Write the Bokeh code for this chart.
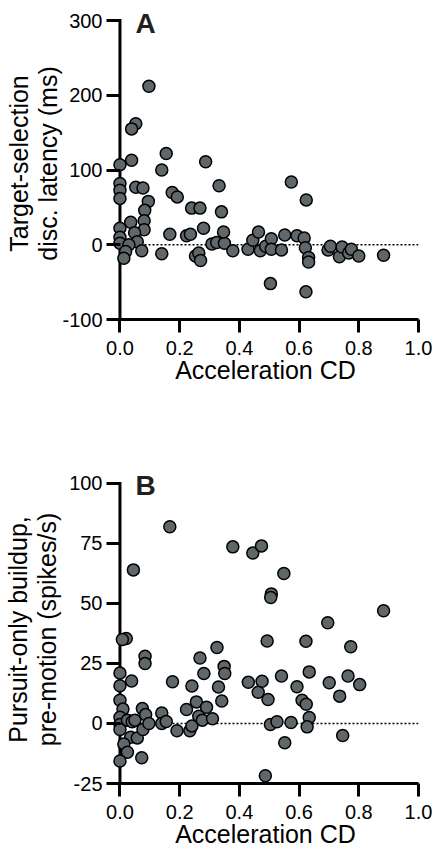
from bokeh.plotting import figure
from bokeh.models import Range1d, Span, Label, FixedTicker, ColumnDataSource
from bokeh.layouts import column
from bokeh.embed import file_html
from bokeh.resources import INLINE

# ---------------- data ----------------
x_ticks = [0.0, 0.2, 0.4, 0.6, 0.8, 1.0]
x_tick_labels = ["0.0", "0.2", "0.4", "0.6", "0.8", "1.0"]
x_label = "Acceleration CD"

a_ticks = [-100, 0, 100, 200, 300]
a_tick_labels = ["-100", "0", "100", "200", "300"]
a_ylabel = "Target-selection\ndisc. latency (ms)"
a_x = [0.097, 0.053, 0.039, 0.039, 0.0, 0.155, 0.140, 0.287, 0.0, 0.0,
       0.0, 0.053, 0.077, 0.095, 0.083, 0.081, 0.036, 0.175, 0.192, 0.240,
       0.268, 0.332, 0.340, 0.574, 0.624, 0.0, 0.0, 0.0, 0.081, 0.049,
       0.058, 0.030, 0.019, 0.013, 0.073, 0.140, 0.167, 0.223, 0.236, 0.280,
       0.253, 0.264, 0.270, 0.308, 0.324, 0.350, 0.347, 0.378, 0.429, 0.445,
       0.464, 0.470, 0.488, 0.507, 0.507, 0.504, 0.541, 0.552, 0.593, 0.617,
       0.621, 0.632, 0.632, 0.623, 0.697, 0.705, 0.735, 0.744, 0.766, 0.775,
       0.800, 0.883]
a_y = [212, 162, 155, 113, 107, 122, 100, 111, 82, 73,
       62, 77, 76, 58, 46, 32, 30, 70, 64, 49,
       49, 79, 44, 84, 60, 22, 10, 2, 20, 16,
       4, 0, -9, -18, -8, -12, 14, 12, 14, 22,
       -15, -11, -21, 1, 3, 2, 17, -8, -6, 6,
       17, -8, -2, 8, -6, -52, -7, 13, 12, 9,
       -4, -17, -23, -63, -7, -2, -16, -3, -11, -6,
       -15, -14]

b_ticks = [-25, 0, 25, 50, 75, 100]
b_tick_labels = ["-25", "0", "25", "50", "75", "100"]
b_ylabel = "Pursuit-only buildup,\npre-motion (spikes/s)"
b_x = [0.167, 0.378, 0.445, 0.474, 0.549, 0.507, 0.505, 0.045, 0.883, 0.696,
       0.021, 0.008, 0.325, 0.493, 0.623, 0.773, 0.0, 0.0, 0.0, 0.010,
       0.0, 0.0, 0.0, 0.025, 0.036, 0.013, 0.025, 0.0, 0.058, 0.073,
       0.041, 0.050, 0.075, 0.086, 0.077, 0.097, 0.039, 0.084, 0.084, 0.140,
       0.140, 0.155, 0.176, 0.191, 0.223, 0.234, 0.241, 0.241, 0.256, 0.268,
       0.264, 0.281, 0.290, 0.276, 0.310, 0.330, 0.341, 0.349, 0.351, 0.430,
       0.463, 0.476, 0.496, 0.487, 0.504, 0.526, 0.541, 0.552, 0.573, 0.593,
       0.610, 0.624, 0.634, 0.634, 0.627, 0.701, 0.736, 0.746, 0.764, 0.803]
b_y = [82, 73.6, 71, 74, 62.5, 54, 52.5, 64, 47, 42,
       35.4, 35, 31.7, 34.4, 34.3, 32, 21, 15.7, 9.7, 6,
       2.6, -0.4, -2.5, 1.4, -5.7, -8.5, -12, -15.6, -6, -14.3,
       0.7, 1.4, 6.2, 3.7, -2.5, 0, 17.7, 28, 25, 4.4,
       0, 0.8, 17.4, -3, 5.8, -3, -1, 15.6, 9, 27.3,
       3, 20.8, 6.8, 1.4, 2, 15.2, 9.4, 23.8, 20.8, 17.2,
       13, 17.6, 10, -21.8, -0.4, 0.7, 19.8, -8, 0.4, 15.3,
       9.7, 8, 21.5, 2.5, -1.4, 17, 11.4, -5, 19.8, 16.2]

FONT = "Liberation Sans"
FILL = "#60676a"


def make_panel(xs, ys, yticks, ytick_labels, ylabel, letter, letter_y,
               y_top, frame_h, top, bottom, title_standoff):
    p = figure(frame_width=306, frame_height=frame_h,
               x_range=Range1d(-0.025, 1.0),
               y_range=Range1d(yticks[0], y_top),
               output_backend="svg", toolbar_location=None, title=None,
               min_border_left=107, min_border_right=21,
               min_border_top=top, min_border_bottom=bottom)
    p.outline_line_color = None
    p.xgrid.visible = False
    p.ygrid.visible = False
    p.background_fill_color = "white"
    p.border_fill_color = "white"

    for ax in (p.xaxis[0], p.yaxis[0]):
        ax.axis_line_width = 3
        ax.axis_line_color = "black"
        ax.major_tick_line_width = 3
        ax.major_tick_line_color = "black"
        ax.minor_tick_out = 0
        ax.minor_tick_in = 0
        ax.major_label_text_font = FONT
        ax.major_label_text_font_size = "20px"
        ax.major_label_text_color = "black"
        ax.axis_label_text_font = FONT
        ax.axis_label_text_font_size = "25px"
        ax.axis_label_text_font_style = "normal"
        ax.axis_label_text_color = "black"

    xa = p.xaxis[0]
    xa.ticker = FixedTicker(ticks=x_ticks)
    xa.major_label_overrides = {t: l for t, l in zip(x_ticks, x_tick_labels)}
    xa.major_tick_out = 13
    xa.major_tick_in = 0
    xa.major_label_standoff = 8
    xa.axis_label = x_label
    xa.axis_label_standoff = -2

    # y axis: its rule is drawn at x = 0 from the lowest to the highest tick
    ya = p.yaxis[0]
    ya.ticker = FixedTicker(ticks=yticks)
    ya.major_label_overrides = {t: l for t, l in zip(yticks, ytick_labels)}
    ya.axis_line_color = None
    ya.major_tick_out = 6
    ya.major_tick_in = 8
    ya.major_label_standoff = 4
    ya.axis_label = ylabel
    ya.axis_label_standoff = title_standoff
    ya.axis_label_text_line_height = 1.05

    rule = ColumnDataSource(dict(x0=[x_ticks[0]], y0=[yticks[0]],
                                 x1=[x_ticks[0]], y1=[yticks[-1]]))
    p.segment("x0", "y0", "x1", "y1", source=rule, line_color="black",
              line_width=3, line_cap="square")

    p.add_layout(Span(location=0, dimension="width", line_color="black",
                      line_width=1.5, line_dash="2 2", level="underlay"))

    src = ColumnDataSource(dict(x=xs, y=ys))
    p.scatter("x", "y", source=src, size=12, fill_color=FILL,
              line_color="black", line_width=1.5)

    p.add_layout(Label(x=0.052, y=letter_y, text=letter, text_font=FONT,
                       text_font_size="28px", text_font_style="bold",
                       text_color="#231f20", text_baseline="alphabetic"))
    return p


pa = make_panel(a_x, a_y, a_ticks, a_tick_labels, a_ylabel, "A", 296.0,
                317.4, 312, 7, 144, -3)
pb = make_panel(b_x, b_y, b_ticks, b_tick_labels, b_ylabel, "B", 99.0,
                103.33, 308, 12, 0, 5)

p = column(pa, pb, spacing=0)
open("out.html", "w").write(file_html(p, INLINE))
